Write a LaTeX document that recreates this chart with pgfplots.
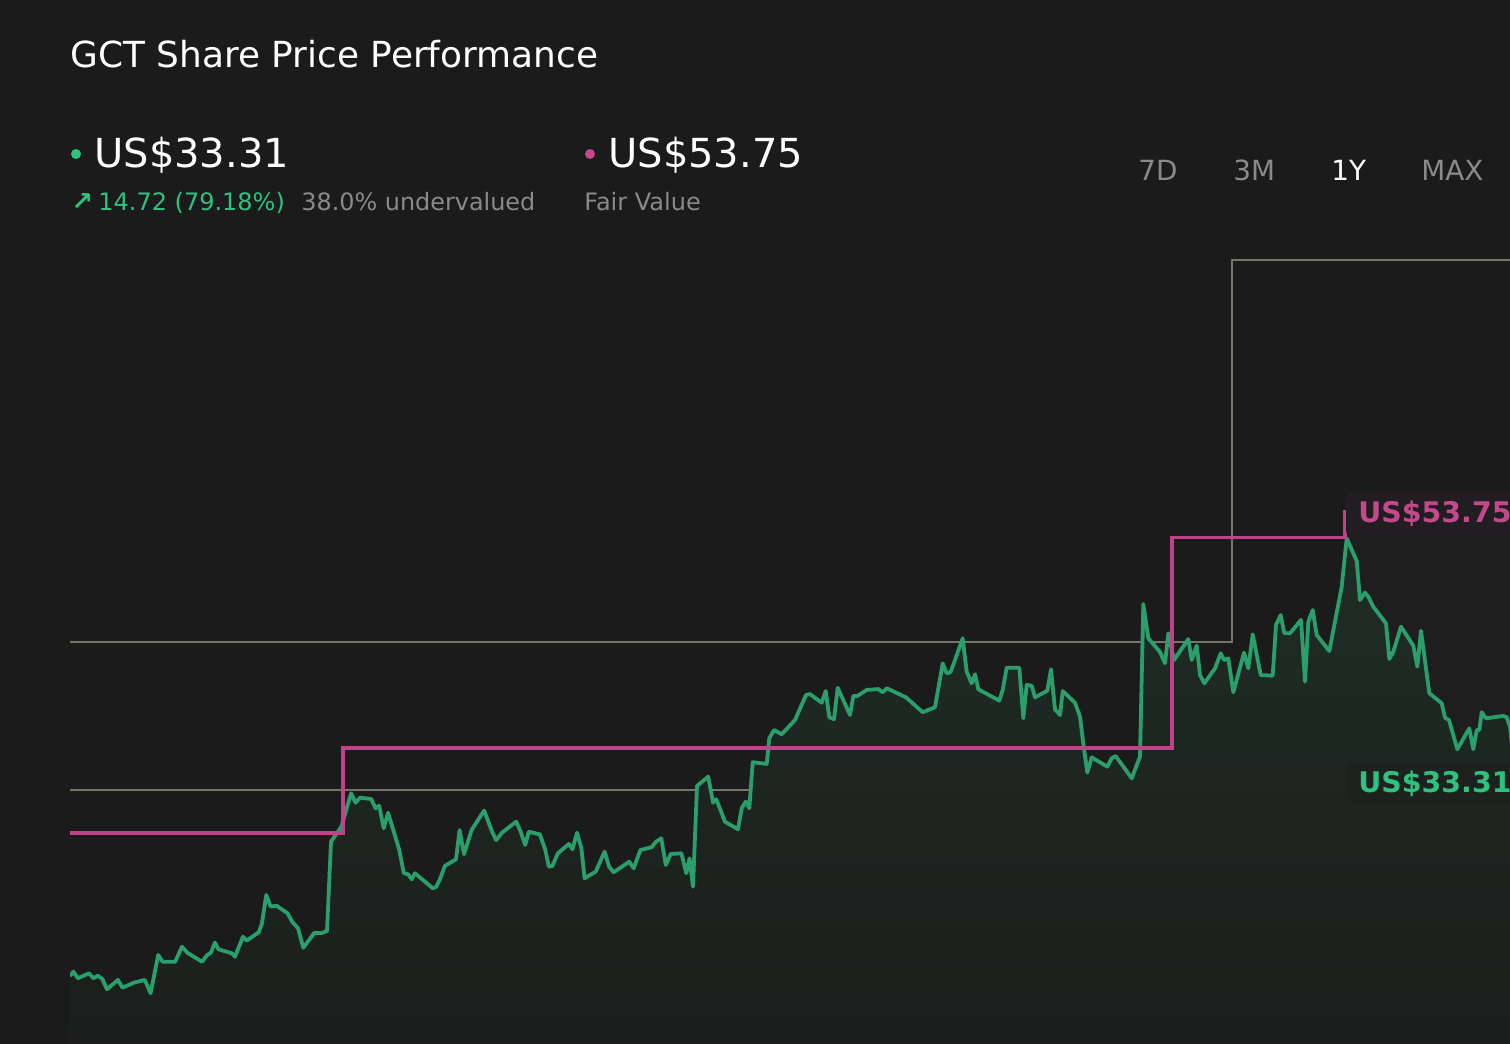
\documentclass[border=0pt]{standalone}
\usepackage{pgfplots}
\pgfplotsset{compat=1.18}
\usepackage{pgfplotstable}
\usepackage{fontspec}
\setmainfont{DejaVu Sans}
\definecolor{bgc}{HTML}{1B1B1B}
\definecolor{gline}{HTML}{2A9E6B}
\definecolor{gtext}{HTML}{2EC27E}
\definecolor{pline}{HTML}{C0438A}
\definecolor{ptext}{HTML}{C4488B}
\definecolor{grayline}{HTML}{77756A}
\definecolor{graytext}{HTML}{8A8A8A}
\definecolor{filltop}{HTML}{1F2D26}
\definecolor{fillbot}{HTML}{1B1E1C}
\definecolor{bandbg}{HTML}{1E1E1E}
\definecolor{pbox}{HTML}{221D20}
\definecolor{gbox}{HTML}{1D221F}

\pgfplotstableread{
x p
70 18.59
73.4 18.92
77.9 18.42
89 18.79
93.5 18.42
97.9 18.61
102.4 18.36
106.9 17.58
118 18.29
122.5 17.70
133.7 18.08
144.8 18.29
150.6 17.28
158.2 20.18
162.7 19.67
175.2 19.67
181.9 20.81
187.2 20.36
202 19.67
207.3 20.18
210.9 20.36
214.9 21.12
218.5 20.61
231.9 20.31
235 20.05
243 21.57
246.6 21.27
258.7 21.90
261.8 22.53
266.3 24.73
270.7 23.85
276.5 23.92
287.7 23.34
292.1 22.71
298 22.21
303.3 20.73
314.5 21.87
321.2 21.83
327 22.00
331 28.77
341.3 29.91
351.1 32.44
355.5 31.73
360 32.11
371.2 32.01
375.6 31.31
379.2 31.50
383.7 29.79
388.1 30.97
399.3 28.14
403.8 26.38
408.2 26.30
411.8 25.92
414.9 26.38
432.8 25.24
436.3 25.36
440.4 26.00
444.8 26.93
456 27.44
459.6 29.66
464 27.82
471.6 29.66
484.1 31.13
492.1 29.53
496.2 28.90
502 29.46
516.2 30.29
520.7 29.53
525.2 28.52
528.8 29.53
539.9 29.33
545.3 28.14
548.8 26.88
552.4 26.93
557.8 27.89
568.9 28.60
572.5 28.20
577 29.46
581.4 28.27
584.6 26.00
595.7 26.50
604.6 28.02
609.1 26.88
613.6 26.45
627 27.14
629.2 27.26
633.7 26.76
640.4 28.14
651.5 28.35
656 28.77
661.3 29.03
665.8 27.01
670.7 27.84
681.4 27.89
686.3 26.38
689.5 27.51
693 25.36
697 33.00
708.2 33.70
713.1 31.73
716.3 31.99
725 30.29
738 29.71
741.7 31.31
745.7 31.81
749.3 31.31
752.7 34.80
766.7 34.67
769.3 36.62
774 37.24
781.7 36.92
795 38.00
806 39.90
810 39.97
821.7 39.31
825.7 40.20
829.3 38.21
834 38.06
837.7 40.45
850 38.38
853.3 39.82
857.3 39.82
866.7 40.28
878.3 40.35
882.7 40.10
886.7 40.41
906 39.72
922.7 38.59
935 38.97
942.7 42.30
946.7 41.54
950.7 41.64
962.7 44.20
966.7 41.66
971.7 40.78
975 41.47
978.3 40.33
999.3 39.47
1002.7 40.28
1006.7 41.97
1019.3 41.97
1023.3 38.13
1026.7 40.66
1031.7 40.60
1035 39.72
1047.3 40.22
1051 41.85
1055 38.81
1060 38.38
1062.7 40.20
1075 39.31
1080 38.25
1083.3 36.23
1087.3 34.01
1091.7 35.17
1107.3 34.46
1111.7 35.10
1115.7 35.27
1131.7 33.58
1140 35.22
1143.3 46.80
1148.3 44.20
1160 43.16
1165 42.30
1168.3 44.58
1174 42.55
1188.3 44.14
1191.7 42.55
1196.7 43.64
1200 41.41
1204.3 40.78
1215 41.92
1220.7 43.06
1224 42.55
1228.3 42.68
1233.3 40.10
1244 43.11
1248.3 41.92
1252.7 44.50
1260.7 41.41
1272.7 41.36
1276 45.21
1280.7 45.96
1284.3 44.58
1290 44.58
1301 45.59
1305 40.91
1308.3 45.46
1312.7 46.34
1316.7 44.45
1329.3 43.23
1341.7 48.11
1346.7 51.78
1356.7 50.06
1360 47.10
1365 47.66
1368.3 47.35
1373.3 46.59
1386 45.33
1389.3 42.63
1393.3 43.18
1401 45.08
1413.3 43.64
1417.3 42.05
1421 44.77
1429.3 40.03
1441.7 39.27
1445 38.18
1449 38.00
1457.3 35.78
1469.3 37.37
1473.3 35.78
1476.7 37.24
1479.3 37.24
1481.7 38.59
1486 38.13
1503.3 38.31
1506.7 38.21
1510 37.49
1516 33.31
}\price

\pgfplotstableread{
x p
70 29.43
343 29.43
343 35.88
1172 35.88
1172 51.84
1345 51.84
1345 53.75
1520 53.75
}\fair

\pgfplotstableread{
x p
70 43.92
1232 43.92
1232 72.88
1520 72.88
}\band

\pgfplotstableread{
x p
70 32.69
1346 32.69
}\cur

\begin{document}
\begin{tikzpicture}
\path[use as bounding box] (0pt,0pt) rectangle (755pt,-522pt);
\begin{scope}[x=0.5pt,y=-0.5pt]
\fill[bgc] (-10,-10) rectangle (1520,1054);
\fill[bandbg] (1346,492) rectangle (1520,806);
\end{scope}
\begin{axis}[
  at={(35pt,-522pt)}, anchor=south west,
  width=720pt, height=407pt, scale only axis,
  xmin=70, xmax=1510, ymin=13.43, ymax=75.16,
  axis lines=none, ticks=none, clip=true,
]
\addplot[draw=grayline, line width=1.1pt] table[x=x,y=p] {\band};
\addplot[draw=grayline, line width=1.1pt] table[x=x,y=p] {\cur};
\addplot[draw=none, top color=filltop, bottom color=fillbot] table[x=x,y=p] {\price} \closedcycle;
\addplot[draw=gline, line width=1.9pt, line join=round] table[x=x,y=p] {\price};
\addplot[draw=pline, line width=1.9pt] table[x=x,y=p] {\fair};
\end{axis}
\begin{scope}[x=0.5pt,y=-0.5pt]
% label boxes
\fill[pbox, rounded corners=2pt] (1346,492.5) rectangle (1530,535.5);
\fill[gbox, rounded corners=2pt] (1346,762.5) rectangle (1530,805.5);
\node[anchor=base west, inner sep=0pt, text=ptext, font=\bfseries\fontsize{14.2pt}{16pt}\selectfont] at (1358,522) {US\$53.75};
\node[anchor=base west, inner sep=0pt, text=gtext, font=\bfseries\fontsize{14.2pt}{16pt}\selectfont] at (1358,792) {US\$33.31};
% title
\node[anchor=base west, inner sep=0pt, text=white, font=\fontsize{17.95pt}{20pt}\selectfont] at (70,68) {GCT Share Price Performance};
% headline values
\fill[gtext] (76,154) circle (5);
\node[anchor=base west, inner sep=0pt, text=white, font=\fontsize{20pt}{22pt}\selectfont] at (94,167) {US\$33.31};
\node[anchor=base west, inner sep=0pt, text=gtext, font=\bfseries\fontsize{13pt}{15pt}\selectfont] at (71,210) {↗};
\node[anchor=base west, inner sep=0pt, text=gtext, font=\fontsize{12pt}{15pt}\selectfont] at (98,210) {14.72 (79.18\%)};
\node[anchor=base west, inner sep=0pt, text=graytext, font=\fontsize{11.95pt}{15pt}\selectfont] at (301,210) {38.0\% undervalued};
\fill[ptext] (590,154) circle (5);
\node[anchor=base west, inner sep=0pt, text=white, font=\fontsize{20pt}{22pt}\selectfont] at (608,167) {US\$53.75};
\node[anchor=base west, inner sep=0pt, text=graytext, font=\fontsize{12pt}{15pt}\selectfont] at (584,210) {Fair Value};
% range buttons
\node[anchor=base west, inner sep=0pt, text=graytext, font=\fontsize{13.9pt}{16pt}\selectfont] at (1138,180.5) {7D};
\node[anchor=base west, inner sep=0pt, text=graytext, font=\fontsize{13.9pt}{16pt}\selectfont] at (1233,180.5) {3M};
\node[anchor=base west, inner sep=0pt, text=white, font=\fontsize{13.9pt}{16pt}\selectfont] at (1331,180.5) {1Y};
\node[anchor=base west, inner sep=0pt, text=graytext, font=\fontsize{13.9pt}{16pt}\selectfont] at (1421,180.5) {MAX};
\end{scope}
\end{tikzpicture}
\end{document}
